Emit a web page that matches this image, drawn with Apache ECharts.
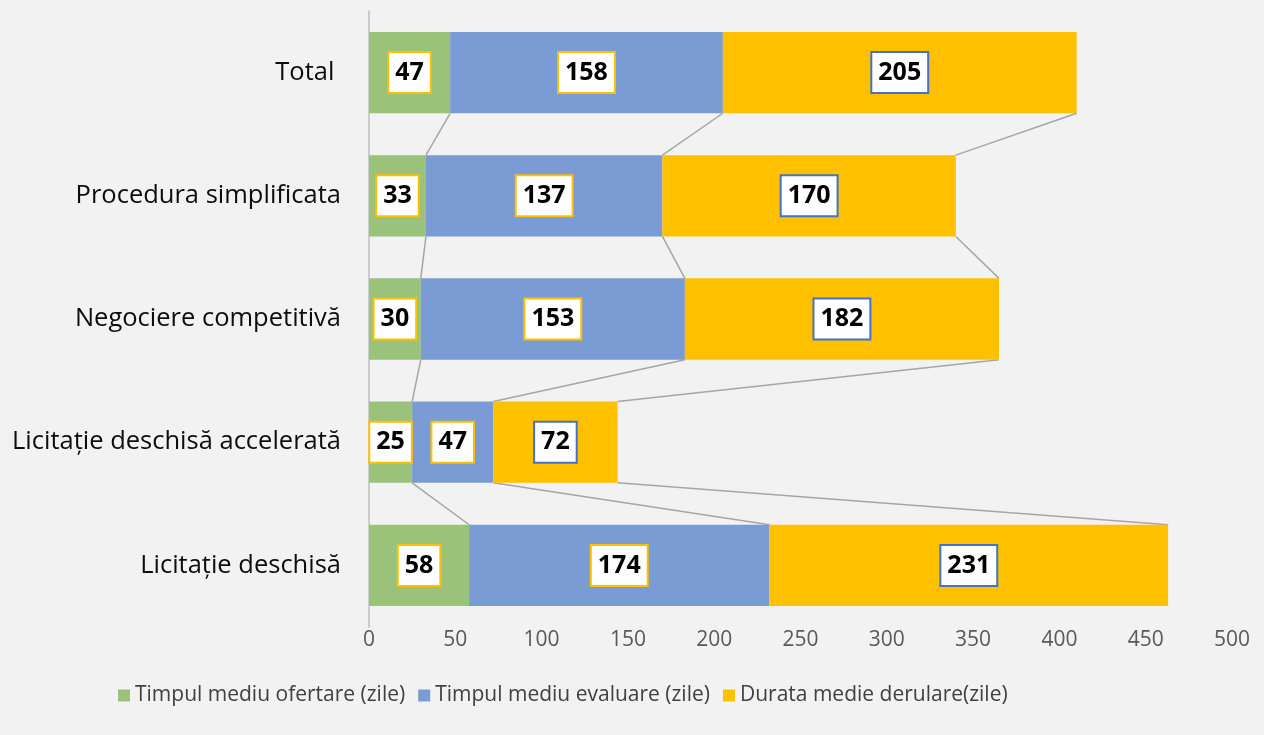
<html>
<head>
<meta http-equiv="Content-Type" content="text/html; charset=utf-8" />
<script src="https://cdn.jsdelivr.net/npm/echarts@6/dist/echarts.min.js"></script>
<style>
  html, body { margin: 0; padding: 0; background: #f2f2f2; }
  #main { width: 1264px; height: 735px; }
</style>
</head>
<body>
<div id="main"></div>
<script type="text/javascript">
var myChart = echarts.init(document.getElementById('main'));

// categorii, de jos in sus (ca pe axa)
var categories = ['Licitație deschisă', 'Licitație deschisă accelerată', 'Negociere competitivă', 'Procedura simplificata', 'Total '];
var seriesNames = ['Timpul mediu ofertare (zile)', 'Timpul mediu evaluare (zile)', 'Durata medie derulare(zile)'];
var ofertare = [58, 25, 30, 33, 47];
var evaluare = [174, 47, 153, 137, 158];
var derulare = [231, 72, 182, 170, 205];
var xTicks = [0, 500, 50];   // min, max, interval

var colors = ['#9bc27b', '#7a9bd3', '#ffc000'];
var labelBorders = ['#ffc000', '#ffc000', '#4472c4'];
var font = 'Open Sans';

// liniile dintre bare (series lines ca in Excel)
var linkData = [];
for (var k = 0; k < categories.length - 1; k++) {
    linkData.push([k]);
}

function barSeries(name, data, idx) {
    return {
        name: name,
        type: 'bar',
        stack: 'total',
        barWidth: '66%',
        data: data,
        itemStyle: { color: colors[idx] },
        z: 3,
        label: {
            show: true,
            position: 'inside',
            fontFamily: font,
            fontWeight: 'bold',
            fontSize: 25,
            lineHeight: 27,
            color: '#000',
            backgroundColor: '#fff',
            borderColor: labelBorders[idx],
            borderWidth: 2,
            padding: [7, 6, 5, 6]
        }
    };
}

myChart.setOption({
    backgroundColor: '#f2f2f2',
    animation: false,
    textStyle: { fontFamily: font },
    grid: { left: 369, right: 32, top: 11, bottom: 108, containLabel: false },
    legend: {
        left: 113,
        top: 680,
        icon: 'rect',
        itemWidth: 12,
        itemHeight: 12,
        itemGap: 13,
        textStyle: { fontFamily: font, fontSize: 21, color: '#404040' },
        data: seriesNames
    },
    xAxis: {
        type: 'value',
        min: xTicks[0],
        max: xTicks[1],
        interval: xTicks[2],
        axisLine: { show: false },
        axisTick: { show: false },
        splitLine: { show: false },
        axisLabel: { fontFamily: font, fontSize: 21, color: '#595959', margin: 3 }
    },
    yAxis: {
        type: 'category',
        data: categories,
        axisLine: { show: true, lineStyle: { color: '#bfbfbf', width: 1.5 } },
        axisTick: { show: false },
        axisLabel: { fontFamily: font, fontSize: 25.5, color: '#0d0d0d', margin: 28 }
    },
    series: [
        barSeries(seriesNames[0], ofertare, 0),
        barSeries(seriesNames[1], evaluare, 1),
        barSeries(seriesNames[2], derulare, 2),
        {
            type: 'custom',
            silent: true,
            z: 2,
            data: linkData,
            renderItem: function (params, api) {
                var lo = api.value(0);       // bara de jos
                var hi = lo + 1;             // bara de sus
                var half = api.size([0, 1])[1] * 0.33;
                var sumLo = 0, sumHi = 0;
                var vLo = [ofertare[lo], evaluare[lo], derulare[lo]];
                var vHi = [ofertare[hi], evaluare[hi], derulare[hi]];
                var children = [];
                for (var s = 0; s < 3; s++) {
                    sumLo += vLo[s];
                    sumHi += vHi[s];
                    var pHi = api.coord([sumHi, hi]);
                    var pLo = api.coord([sumLo, lo]);
                    children.push({
                        type: 'line',
                        shape: { x1: pHi[0], y1: pHi[1] + half, x2: pLo[0], y2: pLo[1] - half },
                        style: { stroke: '#a6a6a6', lineWidth: 1.5 }
                    });
                }
                return { type: 'group', children: children };
            }
        }
    ]
});
</script>
</body>
</html>
